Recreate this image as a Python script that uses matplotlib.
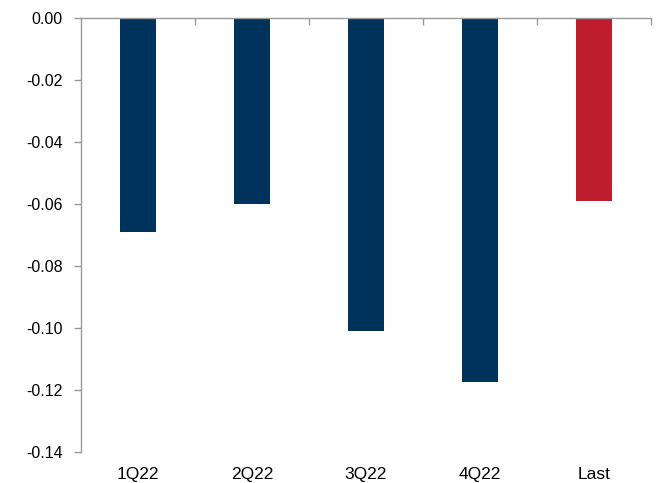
import matplotlib
matplotlib.use('Agg')
import matplotlib.pyplot as plt
import numpy as np

# Data
categories = ['1Q22', '2Q22', '3Q22', '4Q22', 'Last']
values = [-0.069, -0.060, -0.101, -0.1175, -0.059]
colors = ['#00335C', '#00335C', '#00335C', '#00335C', '#BE1E2D']

plt.rcParams['font.family'] = ['Liberation Sans', 'DejaVu Sans']

fig = plt.figure(figsize=(6.56, 4.83), dpi=100)
ax = fig.add_axes([0.1235, 0.0642, 0.8689, 0.8985])

x = np.arange(len(categories))
ax.bar(x, values, width=0.31, color=colors)

ax.set_xlim(-0.5, len(categories) - 0.5)
ax.set_ylim(-0.14, 0.0)
ax.set_yticks(np.arange(-0.14, 0.001, 0.02))
ax.set_yticklabels([f'{v:.2f}' for v in np.arange(-0.14, 0.001, 0.02)])

# Category labels at the bottom, boundary ticks on the top axis line
ax.set_xticks(x)
ax.set_xticklabels(categories)
ax.set_xticks(np.arange(0.5, len(categories), 1.0), minor=True)
ax.tick_params(axis='x', which='major', length=0, pad=11, labelsize=12.5, colors='black')
ax.tick_params(axis='x', which='minor', top=True, bottom=False, direction='in',
               length=5, color='#999999', width=1)
ax.tick_params(axis='y', length=5, width=1, color='#999999', pad=8, labelsize=11.5)

for side in ['bottom', 'right']:
    ax.spines[side].set_visible(False)
for side in ['top', 'left']:
    ax.spines[side].set_color('#999999')
    ax.spines[side].set_linewidth(1)

plt.savefig('out.png', dpi=100)
